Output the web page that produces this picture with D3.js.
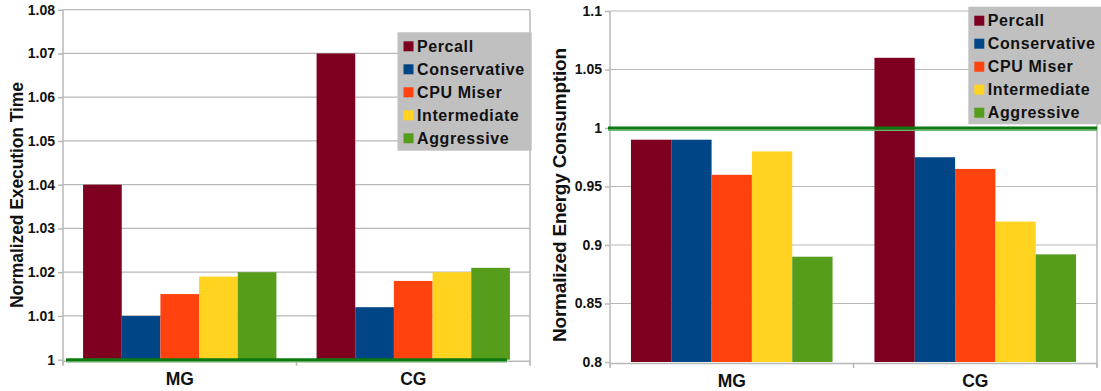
<!DOCTYPE html>
<html>
<head>
<meta charset="utf-8">
<script src="https://cdn.jsdelivr.net/npm/d3@7"></script>
<style>
  html, body { margin: 0; padding: 0; background: #fff; }
  svg { display: block; }
  svg text { font-family: "Liberation Sans", Arial, sans-serif; font-weight: 700; }
</style>
</head>
<body>
<svg id="chart" width="1101" height="391"></svg>
<script>
// Benchmarks and frequency-scaling policies
const categories = ["MG", "CG"];
const seriesNames = ["Percall", "Conservative", "CPU Miser", "Intermediate", "Aggressive"];
const seriesColors = ["#7e0021", "#004586", "#ff420e", "#ffd320", "#579d1c"];

// Normalized execution time, one entry per policy
const timeMG = [1.040, 1.010, 1.015, 1.019, 1.020];
const timeCG = [1.070, 1.012, 1.018, 1.020, 1.021];

// Normalized energy consumption, one entry per policy
const energyMG = [0.990, 0.990, 0.960, 0.980, 0.890];
const energyCG = [1.060, 0.975, 0.965, 0.920, 0.892];

// Axis ticks and their labels
const timeTicks = [1, 1.01, 1.02, 1.03, 1.04, 1.05, 1.06, 1.07, 1.08];
const timeTickLabels = ["1", "1.01", "1.02", "1.03", "1.04", "1.05", "1.06", "1.07", "1.08"];
const energyTicks = [0.8, 0.85, 0.9, 0.95, 1, 1.05, 1.1];
const energyTickLabels = ["0.8", "0.85", "0.9", "0.95", "1", "1.05", "1.1"];

// Baseline (unscaled run)
const baselineValue = 1;

const svg = d3.select("#chart");
const GRID = "#b8b8b8";
const FONT = "'Liberation Sans', Arial, sans-serif";

function drawPanel(cfg) {
  const g = svg.append("g");
  const x = d3.scaleBand().domain(categories).range([cfg.left, cfg.right]).padding(0);
  const pad = x.bandwidth() * 0.086;
  const x1 = d3.scaleBand().domain(seriesNames).range([pad, x.bandwidth() - pad]).padding(0);
  const y = d3.scaleLinear().domain(cfg.domain).range([cfg.bottom, cfg.top]);

  // horizontal gridlines
  g.append("g").selectAll("line").data(cfg.ticks.slice(1)).join("line")
    .attr("x1", cfg.left).attr("x2", cfg.right)
    .attr("y1", d => y(d)).attr("y2", d => y(d))
    .attr("stroke", GRID).attr("stroke-width", 1.2);

  // y axis with outward ticks
  const yAxis = d3.axisLeft(y).tickValues(cfg.ticks)
    .tickFormat((d, i) => cfg.tickLabels[i]).tickSize(5).tickPadding(3);
  const ya = g.append("g").attr("transform", `translate(${cfg.left},0)`).call(yAxis)
    .attr("font-family", FONT).attr("font-size", 14).attr("font-weight", 700);
  ya.select(".domain").attr("stroke", GRID).attr("stroke-width", 1.5)
    .attr("d", `M0,${cfg.top}V${cfg.bottom + 5}`);
  ya.selectAll(".tick line").attr("stroke", GRID).attr("stroke-width", 1.5);
  ya.selectAll(".tick text").attr("fill", "#111")
    .style("font-size", "14px").style("font-weight", "700").style("font-family", FONT);

  // right frame
  g.append("line").attr("x1", cfg.right).attr("x2", cfg.right)
    .attr("y1", cfg.top).attr("y2", cfg.bottom + 5)
    .attr("stroke", GRID).attr("stroke-width", 1.5);

  // bottom axis line and category separators
  g.append("line").attr("x1", cfg.left).attr("x2", cfg.right)
    .attr("y1", cfg.bottom + 1.5).attr("y2", cfg.bottom + 1.5)
    .attr("stroke", GRID).attr("stroke-width", 1.5);
  const seps = [cfg.left, x(categories[1]), cfg.right];
  g.append("g").selectAll("line").data(seps).join("line")
    .attr("x1", d => d).attr("x2", d => d)
    .attr("y1", cfg.bottom + 1).attr("y2", cfg.bottom + 6)
    .attr("stroke", GRID).attr("stroke-width", 1.5);

  // category labels
  g.append("g").selectAll("text").data(categories).join("text")
    .attr("x", d => x(d) + x.bandwidth() / 2)
    .attr("y", cfg.bottom + 25)
    .attr("text-anchor", "middle")
    .style("font-size", "17.5px").style("font-weight", "700")
    .attr("fill", "#111")
    .text(d => d);

  // bars
  const rows = categories.map((c, ci) => ({ cat: c, vals: cfg.values[ci] }));
  const groups = g.append("g").selectAll("g").data(rows).join("g")
    .attr("transform", d => `translate(${x(d.cat)},0)`);
  groups.selectAll("rect")
    .data(d => d.vals.map((v, i) => ({ name: seriesNames[i], v, i })))
    .join("rect")
    .attr("x", d => x1(d.name))
    .attr("width", x1.bandwidth())
    .attr("y", d => y(d.v))
    .attr("height", d => y(cfg.domain[0]) - y(d.v))
    .attr("fill", d => seriesColors[d.i]);

  // baseline reference line
  const ly = y(baselineValue);
  const lx0 = cfg.lineStart(x, x1);
  const lx1 = cfg.lineEnd(x, x1);
  g.append("line").attr("x1", lx0).attr("x2", lx1)
    .attr("y1", ly + 2.2).attr("y2", ly + 2.2)
    .attr("stroke", "#6fb86f").attr("stroke-width", 1.4);
  g.append("line").attr("x1", lx0).attr("x2", lx1)
    .attr("y1", ly).attr("y2", ly)
    .attr("stroke", "#0c7a10").attr("stroke-width", 3);

  // y axis title
  g.append("text")
    .attr("transform", `translate(${cfg.titleX},${cfg.titleY}) rotate(-90)`)
    .attr("text-anchor", "middle")
    .attr("textLength", cfg.titleLength)
    .attr("lengthAdjust", "spacing")
    .style("font-size", cfg.titleSize + "px").style("font-weight", "700")
    .attr("fill", "#111")
    .text(cfg.title);

  // legend
  const lg = g.append("g").attr("transform", `translate(${cfg.legend.x},${cfg.legend.y})`);
  lg.append("rect").attr("width", cfg.legend.w).attr("height", cfg.legend.h).attr("fill", "#c0c0c0");
  const items = lg.selectAll("g").data(seriesNames).join("g")
    .attr("transform", (d, i) => `translate(0,${9 + i * 23})`);
  items.append("rect").attr("x", 6).attr("y", 0).attr("width", 10).attr("height", 10)
    .attr("fill", (d, i) => seriesColors[i]);
  items.append("text").attr("x", 19.5).attr("y", 10.3)
    .style("font-size", "16px").style("font-weight", "700").style("letter-spacing", "0.6px")
    .attr("fill", "#111")
    .text(d => d);
}

drawPanel({
  left: 63, right: 530, top: 9.7, bottom: 359.7,
  domain: [1, 1.08], ticks: timeTicks, tickLabels: timeTickLabels,
  values: [timeMG, timeCG],
  title: "Normalized Execution Time", titleX: 23.3, titleY: 195, titleLength: 226, titleSize: 17.5,
  lineStart: (x) => x.range()[0] + 3,
  lineEnd: (x, x1) => x(categories[1]) + x1(seriesNames[4]) + x1.bandwidth() - 3,
  legend: { x: 397.5, y: 32.3, w: 134.2, h: 118.4 }
});

drawPanel({
  left: 610, right: 1097, top: 11, bottom: 362,
  domain: [0.8, 1.1], ticks: energyTicks, tickLabels: energyTickLabels,
  values: [energyMG, energyCG],
  title: "Normalized Energy Consumption", titleX: 566, titleY: 195, titleLength: 294, titleSize: 19,
  lineStart: (x) => x.range()[0] - 2,
  lineEnd: (x) => x.range()[1],
  legend: { x: 968.3, y: 6.7, w: 132.7, h: 117.6 }
});
</script>
</body>
</html>
